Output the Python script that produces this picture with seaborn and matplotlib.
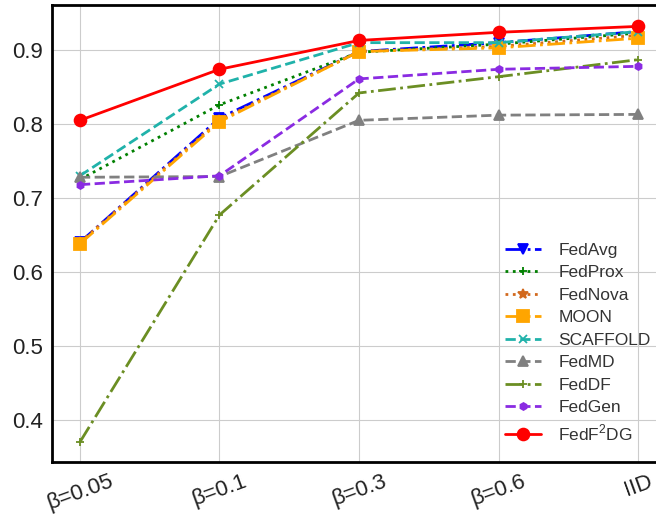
'''accuracy vs. heterogeneity line chart'''
import matplotlib
matplotlib.use('Agg')
import matplotlib.pyplot as plt
import pandas as pd
import seaborn as sns

settings = ['β=0.05', 'β=0.1', 'β=0.3', 'β=0.6', 'IID']
fedavg = [0.640, 0.808, 0.898, 0.910, 0.925]
fedprox = [0.725, 0.826, 0.897, 0.908, 0.923]
fednova = [0.640, 0.805, 0.898, 0.905, 0.920]
moon = [0.638, 0.803, 0.898, 0.903, 0.916]
scaffold = [0.730, 0.854, 0.910, 0.910, 0.925]
fedmd = [0.728, 0.729, 0.805, 0.812, 0.813]
feddf = [0.370, 0.677, 0.842, 0.864, 0.887]
fedgen = [0.718, 0.730, 0.861, 0.874, 0.878]
fedf2dg = [0.805, 0.874, 0.913, 0.924, 0.932]


def main():
    '''
    main
    '''
    sns.set_style('whitegrid')
    plt.rcParams['font.family'] = ['Liberation Sans', 'DejaVu Sans']
    plt.rcParams['mathtext.fontset'] = 'custom'
    plt.rcParams['mathtext.rm'] = 'Liberation Sans'

    series = [
        ('FedAvg', fedavg, 'blue', '-.', 'v', 7),
        ('FedProx', fedprox, 'green', ':', '+', 6),
        ('FedNova', fednova, 'chocolate', ':', '*', 7),
        ('MOON', moon, 'orange', '-.', 's', 8),
        ('SCAFFOLD', scaffold, 'lightseagreen', '--', 'x', 6),
        ('FedMD', fedmd, 'gray', '--', '^', 7),
        ('FedDF', feddf, 'olivedrab', '-.', '+', 6),
        ('FedGen', fedgen, 'blueviolet', '--', 'h', 5),
        ('FedF$^2$DG', fedf2dg, 'red', '-', 'o', 8.5),
    ]

    fig = plt.figure(figsize=(6.56, 5.2), dpi=100)
    ax = fig.add_axes([0.0793, 0.1115, 0.936, 0.879])
    for name, vals, color, ls, mk, ms in series:
        df = pd.DataFrame({'setting': settings, 'acc': vals})
        sns.lineplot(x='setting', y='acc', data=df, ax=ax, color=color,
                     linestyle=ls, marker=mk, markersize=ms, linewidth=2,
                     markeredgecolor=color, markeredgewidth=1.3,
                     label=name)

    ax.set_xlim(-0.2, 4.2)
    ax.set_ylim(0.343, 0.961)
    ax.set_yticks([0.4, 0.5, 0.6, 0.7, 0.8, 0.9])
    ax.set_xlabel('')
    ax.set_ylabel('')
    ax.tick_params(axis='both', labelsize=16, colors='#222222', pad=3)
    plt.setp(ax.get_xticklabels(), rotation=20)
    for side in ['left', 'top', 'bottom', 'right']:
        ax.spines[side].set_color('black')
        ax.spines[side].set_linewidth(2)
    leg = ax.legend(loc='lower right', bbox_to_anchor=(0.995, 0.015),
                    fontsize=12.5, frameon=False, handlelength=2.1,
                    handletextpad=1.0, labelspacing=0.42, borderaxespad=0.3)
    for txt in leg.get_texts():
        txt.set_color('#333333')
    fig.savefig('out.png', dpi=100)


if __name__ == '__main__':
    main()
